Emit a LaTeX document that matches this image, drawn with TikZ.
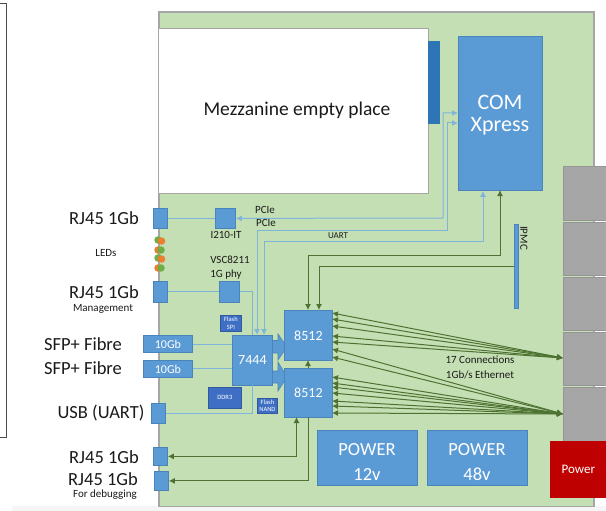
\documentclass[tikz,border=0pt]{standalone}
\usepackage{fontspec}
\setmainfont{Carlito}
\usetikzlibrary{arrows.meta}
\definecolor{board}{HTML}{C5DFB4}
\definecolor{boardedge}{HTML}{A6A6A6}
\definecolor{boxblue}{HTML}{5B9BD5}
\definecolor{boxedge}{HTML}{4A84B8}
\definecolor{darkchip}{HTML}{3F6FC4}
\definecolor{strip}{HTML}{2E75B6}
\definecolor{wire}{HTML}{7FB5DA}
\definecolor{gwire}{HTML}{4D7232}
\definecolor{txt}{HTML}{1A1A1A}
\definecolor{ledg}{HTML}{70AD47}
\definecolor{ledo}{HTML}{ED7D31}
\tikzset{
 x=1pt,y=-1pt,
 bx/.style={draw=boxedge,fill=boxblue,line width=0.8pt,text=white,inner sep=0pt,align=center,anchor=north west},
 gray port/.style={draw=boardedge!90!black,fill=boardedge,line width=0.4pt,inner sep=0pt,anchor=north west},
 chip/.style={bx,fill=darkchip,draw=darkchip!80!black,font=\fontsize{6.5}{7.5}\selectfont},
 lab/.style={text=txt,inner sep=0pt,align=center},
 big/.style={lab,font=\fontsize{18.5}{20}\selectfont},
 small/.style={lab,font=\fontsize{11}{12}\selectfont},
 wlab/.style={text=white,inner sep=0pt,align=center},
 bw/.style={draw=wire,line width=1pt,-{Latex[length=6pt,width=6pt]}},
 bwb/.style={draw=wire,line width=1pt,{Latex[length=6pt,width=6pt]}-{Latex[length=6pt,width=6pt]}},
 bl/.style={draw=wire,line width=1pt},
 gw/.style={draw=gwire,line width=1pt,-{Latex[length=6pt,width=6pt]}},
 gwb/.style={draw=gwire,line width=1pt,{Latex[length=6pt,width=6pt]}-{Latex[length=6pt,width=6pt]}},
 led/.style={circle,minimum size=7.5pt,inner sep=0pt,draw=none},
 blockarrow/.style={fill=boxblue,draw=boxedge,line width=0.6pt},
}
\newcommand{\bxn}[7]{\node[#6,minimum width=#4pt-#2pt,minimum height=#5pt-#3pt] (#1) at (#2,#3) {#7};}
\begin{document}
\begin{tikzpicture}
\useasboundingbox (0,0) rectangle (606,511);
\fill[black!4] (12,506) rectangle (606,511);
% outer frame at left
\draw[draw=black!70,line width=0.8pt] (-5,3) -- (6,3) -- (6,437) -- (-5,437);
% board
\path[fill=board,draw=boardedge,line width=1.2pt] (159,12) rectangle (594,506.5);
% mezzanine
\bxn{mezz}{158}{28}{428}{193}{bx,fill=white,draw=boardedge}{}
\node[lab,font=\fontsize{19.5}{24}\selectfont] (mezzt) at (297,110) {Mezzanine empty place};
\bxn{stripb}{428}{41}{439}{123}{bx,fill=strip,draw=strip}{}
\bxn{com}{458}{36}{542}{190}{bx}{}
\node[wlab,font=\fontsize{22}{24}\selectfont] (comt) at (500,102) {COM};
\node[wlab,font=\fontsize{22}{24}\selectfont] (xpt) at (500,126) {Xpress};
% gray ports
\bxn{g1}{563}{166}{606}{220.2}{gray port}{}
\bxn{g2}{563}{221.8}{606}{275.2}{gray port}{}
\bxn{g3}{563}{276.8}{606}{330.2}{gray port}{}
\bxn{g4}{563}{331.8}{606}{385.2}{gray port}{}
\bxn{g5}{563}{386.8}{606}{441}{gray port}{}
\bxn{pwr}{550}{441}{606}{497}{bx,fill=red!75!black,draw=red!75!black,font=\fontsize{13}{15}\selectfont}{Power}
% boxes
\bxn{p1}{153}{208}{167}{228}{bx}{}
\bxn{i210}{215}{208}{235}{228}{bx}{}
\bxn{p2}{153}{281}{167}{302}{bx}{}
\bxn{vsc}{219}{281}{239}{302}{bx}{}
\bxn{spi}{220}{315}{241}{331}{chip}{Flash\\SPI}
\bxn{ta}{143}{335}{192}{352}{bx,font=\fontsize{12}{14}\selectfont}{10Gb}
\bxn{tb}{143}{360}{192}{377}{bx,font=\fontsize{12}{14}\selectfont}{10Gb}
\bxn{usb}{151}{403}{165}{423}{bx}{}
\bxn{rja}{153}{447}{167}{465}{bx}{}
\bxn{rjb}{154}{471}{168}{490}{bx}{}
\bxn{ddr}{208}{387}{241}{408}{chip}{DDR3}
\bxn{nand}{257}{398}{277}{413}{chip}{Flash\\NAND}
\bxn{pa}{317}{430}{417}{485}{bx}{}
\bxn{pb}{427}{430}{527}{485}{bx}{}
\node[wlab,font=\fontsize{18.5}{22}\selectfont] (pat) at (367,450) {POWER};
\node[wlab,font=\fontsize{18.5}{22}\selectfont] (pav) at (367,474) {12v};
\node[wlab,font=\fontsize{18.5}{22}\selectfont] (pbt) at (477,450) {POWER};
\node[wlab,font=\fontsize{18.5}{22}\selectfont] (pbv) at (477,474) {48v};
\bxn{ipmc}{514}{224}{518}{308}{bx}{}
% block arrows
\draw[blockarrow] (272,340.5) -- (278,340.5) -- (278,334) -- (287,347) -- (278,360) -- (278,353) -- (272,353) -- cycle;
\draw[blockarrow] (272,371) -- (278,371) -- (278,362) -- (287,377) -- (278,391) -- (278,383) -- (272,383) -- cycle;
\bxn{sw}{232}{335}{272}{385}{bx,font=\fontsize{14}{16}\selectfont}{7444}
\bxn{ua}{284}{310}{332}{360}{bx,font=\fontsize{14}{16}\selectfont}{8512}
\bxn{ub}{284}{368}{332}{417}{bx,font=\fontsize{14}{16}\selectfont}{8512}
% blue wires
\draw[bl] (p1.east) -- (i210.west);
\draw[bwb] (com.west |- 0,113) -| (443,218) -- (i210.east);
\draw[bwb] (com.west |- 0,123) -| (447.5,230) -| (257,335);
\draw[bwb] (com.south -| 483,0) |- (264,241) -- (264,335);
\draw[bl] (p2.east) -- (vsc.west);
\draw[bl] (vsc.east) -| (252,335);
\draw[bl] (ta.east |- 0,344) -- (sw.west |- 0,344);
\draw[bl] (tb.east |- 0,368) -- (sw.west |- 0,368);
\draw[bl] (usb.east) -| (252.5,385);
% green wires
\draw[gwb] (500,190) |- (308,255) -- (308,310);
\draw[gw] (ipmc.north west |- 0,266) -| (319,310);
\draw[gw] (308,368) -- (308,360);
\draw[gwb] (296.5,417) |- (rja.east);
\draw[gw] (308,417) |- (rjb.east);
% fans
\coordinate (ta1) at (563,358);
\coordinate (ta2) at (563,414);
\foreach \y in {313,319,326,336,342} \draw[gwb] (332,\y) -- (ta1);
\foreach \y in {349,357,377,383,387,393,401,406,413} \draw[gwb] (332,\y) -- (ta2);
% LEDs
\node[led,fill=ledg] (l1) at (158,240) {};
\node[led,fill=ledo] (l2) at (161.5,241) {};
\node[led,fill=ledo] (l3) at (158,250) {};
\node[led,fill=ledg] (l4) at (161,250) {};
\node[led,fill=ledg] (l5) at (158,258) {};
\node[led,fill=ledo] (l6) at (161.5,259) {};
\node[led,fill=ledo] (l7) at (158,268) {};
\node[led,fill=ledg] (l8) at (161,268) {};
% labels
\node[big] (t1) at (104,218) {RJ45 1Gb};
\node[small] (t2) at (106,253) {LEDs};
\node[big] (t3) at (104,292) {RJ45 1Gb};
\node[small] (t4) at (103,309) {Management};
\node[big] (t5) at (83,344) {SFP+ Fibre};
\node[big] (t6) at (83,368) {SFP+ Fibre};
\node[big] (t7) at (101,413) {USB (UART)};
\node[big] (t8) at (104,457) {RJ45 1Gb};
\node[big] (t9) at (103,479) {RJ45 1Gb};
\node[small] (t10) at (105,495) {For debugging};
\node[small] (t11) at (265,210) {PCIe};
\node[small] (t12) at (266,223) {PCIe};
\node[small] (t13) at (226,235) {I210-IT};
\node[small] (t14) at (230,260) {VSC8211};
\node[small] (t15) at (226,275) {1G phy};
\node[lab,font=\fontsize{9}{10}\selectfont] (t16) at (338,236) {UART};
\node[lab,font=\fontsize{11}{12}\selectfont,rotate=-90] (t17) at (524,238) {IPMC};
\node[small] (t18) at (480,360) {17 Connections};
\node[small] (t19) at (480,375) {1Gb/s Ethernet};
\end{tikzpicture}
\end{document}
